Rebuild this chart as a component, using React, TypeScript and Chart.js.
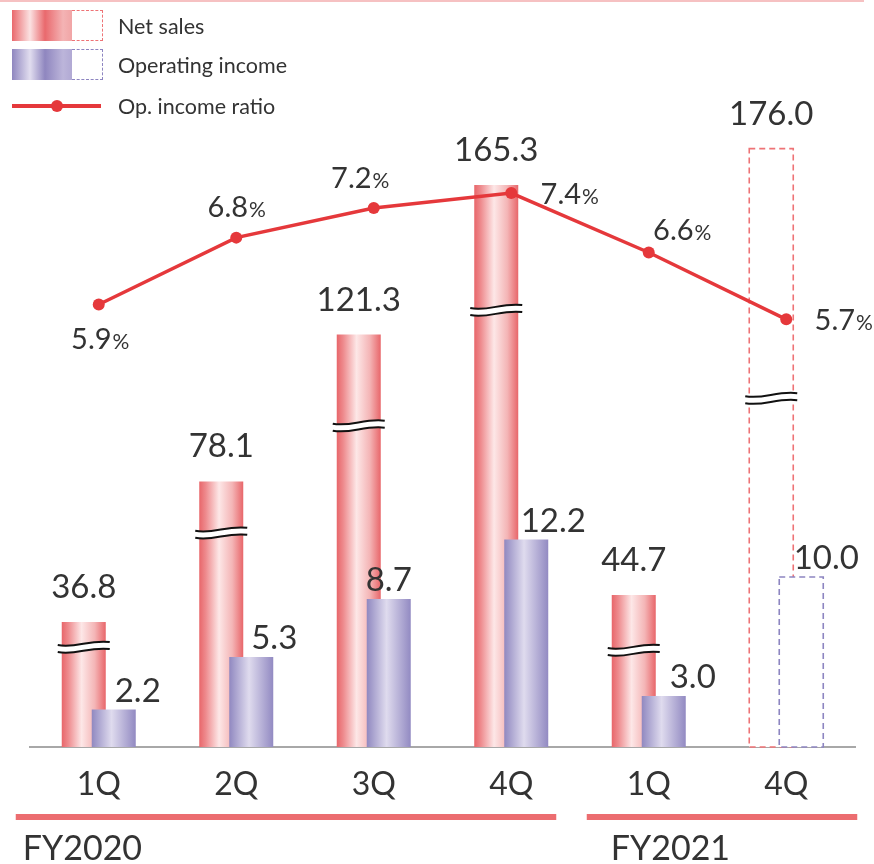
import React, { useEffect, useRef } from 'react';
import { Chart, registerables } from 'chart.js';

Chart.register(...registerables);

// ---------- data ----------
const quarters = ['1Q', '2Q', '3Q', '4Q', '1Q', '4Q'];
const netSales = [36.8, 78.1, 121.3, 165.3, 44.7, 176.0];
const operatingIncome = [2.2, 5.3, 8.7, 12.2, 3.0, 10.0];
const opIncomeRatio = [5.9, 6.8, 7.2, 7.4, 6.6, 5.7];
const isForecast = [false, false, false, false, false, true];
// value (on the net-sales axis) where the "broken axis" mark sits on each bar
const netSalesBreakAt = [29.4, 63, 94.5, 128.5, 28.5, 102.6];
const fiscalYears = [
  { label: 'FY2020', from: 0, to: 3 },
  { label: 'FY2021', from: 4, to: 5 },
];

// ---------- styles ----------
const FONT = 'Lato, "Open Sans", sans-serif';
const TEXT = '#333333';
const NET_RED = '#e9696d';
const OP_PURPLE = '#9088c0';
const LINE_RED = '#e5383b';
// label offsets for ratio labels [dx, dy(baseline)] relative to the point
const ratioLabelOffset = [[1, 45], [0, -21], [-14, -20], [58, 11], [33, -12], [57, 11]];
// horizontal offset of operating-income value labels from their bar centre
const opLabelDx = [24, 23, 0, 27, 29, 25];
// fiscal-year underline extents [left inset, right outset] in px from first/last category centre
const fyLineExtent = [[83, 45], [62, 71]];
const fyTextLeft = [76, 38];

function netGrad(c: CanvasRenderingContext2D, x0: number, x1: number) {
  const g = c.createLinearGradient(x0, 0, x1, 0);
  g.addColorStop(0, '#e8666a');
  g.addColorStop(0.15, '#ee8b8e');
  g.addColorStop(0.45, '#fde7e7');
  g.addColorStop(0.75, '#f4b5b6');
  g.addColorStop(1, '#e8666a');
  return g;
}
function opGrad(c: CanvasRenderingContext2D, x0: number, x1: number) {
  const g = c.createLinearGradient(x0, 0, x1, 0);
  g.addColorStop(0, '#9088c0');
  g.addColorStop(0.45, '#dfdbee');
  g.addColorStop(1, '#928ac2');
  return g;
}

function drawDashed(chart: any, di: number, color: string) {
  const c = chart.ctx as CanvasRenderingContext2D;
  const meta = chart.getDatasetMeta(di);
  meta.data.forEach((el: any, i: number) => {
    if (!isForecast[i]) return;
    const l = el.x - el.width / 2;
    c.save();
    c.strokeStyle = color;
    c.lineWidth = 1.6;
    c.setLineDash([6, 4]);
    c.strokeRect(l, el.y, el.width, el.base - el.y);
    c.restore();
  });
}

function drawBreaks(chart: any) {
  const c = chart.ctx as CanvasRenderingContext2D;
  const meta = chart.getDatasetMeta(0);
  const ys = chart.scales.y;
  meta.data.forEach((el: any, i: number) => {
    const y = ys.getPixelForValue(netSalesBreakAt[i]);
    const x0 = el.x - el.width / 2 - 4;
    const x1 = el.x + el.width / 2 + 4;
    const w = x1 - x0;
    const wave = (yy: number) => {
      c.moveTo(x0, yy + 1.5);
      c.bezierCurveTo(x0 + w * 0.35, yy + 5, x0 + w * 0.6, yy - 4, x1, yy - 1.5);
    };
    c.save();
    c.beginPath();
    c.moveTo(x0, y - 3 + 1.5);
    c.bezierCurveTo(x0 + w * 0.35, y - 3 + 5, x0 + w * 0.6, y - 3 - 4, x1, y - 3 - 1.5);
    c.lineTo(x1, y + 3 - 1.5);
    c.bezierCurveTo(x0 + w * 0.6, y + 3 - 4, x0 + w * 0.35, y + 3 + 5, x0, y + 3 + 1.5);
    c.closePath();
    c.fillStyle = '#ffffff';
    c.fill();
    c.strokeStyle = '#111111';
    c.lineWidth = 2;
    c.beginPath();
    wave(y - 3.5);
    c.stroke();
    c.beginPath();
    wave(y + 3.5);
    c.stroke();
    c.restore();
  });
}

const decorPlugin = {
  id: 'decor',
  beforeDatasetsDraw(chart: any) {
    const c = chart.ctx;
    [0, 1].forEach((di) => {
      chart.getDatasetMeta(di).data.forEach((el: any, i: number) => {
        const fill = isForecast[i]
          ? '#ffffff'
          : (di === 0 ? netGrad : opGrad)(c, el.x - el.width / 2, el.x + el.width / 2);
        if (Object.isFrozen(el.options)) el.options = { ...el.options };
        el.options.backgroundColor = fill;
      });
    });
  },
  beforeDatasetDraw(_chart: any, args: any) {
    if (args.index === 1) return false; // drawn on top of net sales below
    return true;
  },
  afterDatasetDraw(chart: any, args: any) {
    if (args.index !== 0) return;
    drawDashed(chart, 0, '#ee7376');
    drawBreaks(chart);
    chart.getDatasetMeta(1).controller.draw();
    drawDashed(chart, 1, '#8d85c1');
  },
  afterDatasetsDraw(chart: any) {
    const c = chart.ctx as CanvasRenderingContext2D;
    c.save();
    c.fillStyle = TEXT;
    c.textBaseline = 'alphabetic';
    c.textAlign = 'center';
    c.font = `33px ${FONT}`;
    chart.getDatasetMeta(0).data.forEach((el: any, i: number) => {
      c.fillText(netSales[i].toFixed(1), el.x, el.y - 24);
    });
    chart.getDatasetMeta(1).data.forEach((el: any, i: number) => {
      c.fillText(operatingIncome[i].toFixed(1), el.x + opLabelDx[i], el.y - 8);
    });
    c.textAlign = 'left';
    chart.getDatasetMeta(2).data.forEach((el: any, i: number) => {
      const num = opIncomeRatio[i].toFixed(1);
      c.font = `29px ${FONT}`;
      const w1 = c.measureText(num).width;
      c.font = `21px ${FONT}`;
      const w2 = c.measureText('%').width;
      const [dx, dy] = ratioLabelOffset[i];
      const sx = el.x + dx - (w1 + w2) / 2;
      c.font = `29px ${FONT}`;
      c.fillText(num, sx, el.y + dy);
      c.font = `21px ${FONT}`;
      c.fillText('%', sx + w1 + 1, el.y + dy);
    });
    c.restore();
  },
  afterDraw(chart: any) {
    const c = chart.ctx as CanvasRenderingContext2D;
    const xs = chart.scales.x;
    const bottom = chart.chartArea.bottom;
    c.save();
    fiscalYears.forEach((fy, k) => {
      const l = xs.getPixelForValue(fy.from) - fyLineExtent[k][0];
      const r = xs.getPixelForValue(fy.to) + fyLineExtent[k][1];
      c.fillStyle = '#ec6d70';
      c.fillRect(l, bottom + 67, r - l, 6);
      c.fillStyle = TEXT;
      c.font = `34px ${FONT}`;
      c.textAlign = 'left';
      c.textBaseline = 'alphabetic';
      c.fillText(fy.label, xs.getPixelForValue(fy.from) - fyTextLeft[k], bottom + 113);
    });
    c.restore();
  },
};

const legendItems = [
  { label: 'Net sales', kind: 'net' },
  { label: 'Operating income', kind: 'op' },
  { label: 'Op. income ratio', kind: 'line' },
];

function Legend() {
  const rowsTop = [10, 49, 91];
  return (
    <>
      {legendItems.map((it, k) => {
        const top = rowsTop[k];
        const textStyle: React.CSSProperties = {
          position: 'absolute',
          left: 118,
          top: it.kind === 'line' ? top + 1 : top + 2,
          height: 31,
          lineHeight: '28px',
          fontFamily: FONT,
          fontSize: 21.5,
          color: TEXT,
          whiteSpace: 'nowrap',
        };
        if (it.kind === 'line') {
          return (
            <React.Fragment key={k}>
              <div style={{ position: 'absolute', left: 12, top: top + 13, width: 89, height: 4, background: LINE_RED }} />
              <div style={{ position: 'absolute', left: 51, top: top + 9, width: 12, height: 12, borderRadius: 6, background: LINE_RED }} />
              <div style={textStyle}>{it.label}</div>
            </React.Fragment>
          );
        }
        const grad =
          it.kind === 'net'
            ? 'linear-gradient(to right, #e9696d 0%, #fbe2e2 30%, #e9696d 55%, #f4b3b4 85%, #f1a5a6 100%)'
            : 'linear-gradient(to right, #8f86bf 0%, #e1ddef 30%, #8f86bf 55%, #bcb5da 85%, #b1a9d4 100%)';
        const dash = it.kind === 'net' ? '#ee7376' : '#8d85c1';
        return (
          <React.Fragment key={k}>
            <div style={{ position: 'absolute', left: 12, top, width: 60, height: 31, background: grad }} />
            <div
              style={{
                position: 'absolute',
                left: 72,
                top,
                width: 30,
                height: 29,
                borderTop: `1.5px dashed ${dash}`,
                borderRight: `1.5px dashed ${dash}`,
                borderBottom: `1.5px dashed ${dash}`,
              }}
            />
            <div style={textStyle}>{it.label}</div>
          </React.Fragment>
        );
      })}
    </>
  );
}

export default function App() {
  const ref = useRef<HTMLCanvasElement | null>(null);
  useEffect(() => {
    if (!ref.current) return;
    const chart = new Chart(ref.current, {
      type: 'bar',
      data: {
        labels: quarters,
        datasets: [
          {
            type: 'bar',
            label: 'Net sales',
            data: netSales,
            yAxisID: 'y',
            backgroundColor: () => NET_RED,
            borderWidth: 0,
            barPercentage: 1.4667,
            categoryPercentage: 0.4364,
            order: 1,
          },
          {
            type: 'bar',
            label: 'Operating income',
            data: operatingIncome,
            yAxisID: 'y2',
            backgroundColor: () => OP_PURPLE,
            borderWidth: 0,
            barPercentage: 1.4667,
            categoryPercentage: 0.4364,
            order: 1,
          },
          {
            type: 'line',
            label: 'Op. income ratio',
            data: opIncomeRatio,
            yAxisID: 'y3',
            borderColor: LINE_RED,
            backgroundColor: LINE_RED,
            borderWidth: 3.5,
            pointRadius: 6,
            pointBorderWidth: 0,
            pointBackgroundColor: LINE_RED,
            tension: 0,
            order: 0,
          },
        ] as any,
      },
      options: {
        responsive: false,
        animation: false,
        layout: { padding: { left: 30, right: 19, top: 101, bottom: 42.6 } },
        plugins: { legend: { display: false }, tooltip: { enabled: false } },
        scales: {
          x: {
            offset: true,
            grid: { display: false, drawTicks: false },
            border: { display: true, color: '#a8a8a8', width: 2 },
            ticks: { font: { family: FONT, size: 32 }, color: TEXT, padding: 18 },
          },
          y: { display: false, min: 0, max: 190 },
          y2: { display: false, min: 0, max: 38 },
          y3: { display: false, min: -0.06, max: 8.64 },
        },
      },
      plugins: [decorPlugin],
    });
    return () => chart.destroy();
  }, []);

  return (
    <div style={{ position: 'fixed', left: 0, top: 0, width: 874, height: 864, background: '#ffffff' }}>
      <canvas ref={ref} width={874} height={864} style={{ position: 'absolute', left: 0, top: 0 }} />
      <div style={{ position: 'absolute', left: 0, top: 0, width: 864, height: 2, background: '#f6c1c2' }} />
      <Legend />
    </div>
  );
}
